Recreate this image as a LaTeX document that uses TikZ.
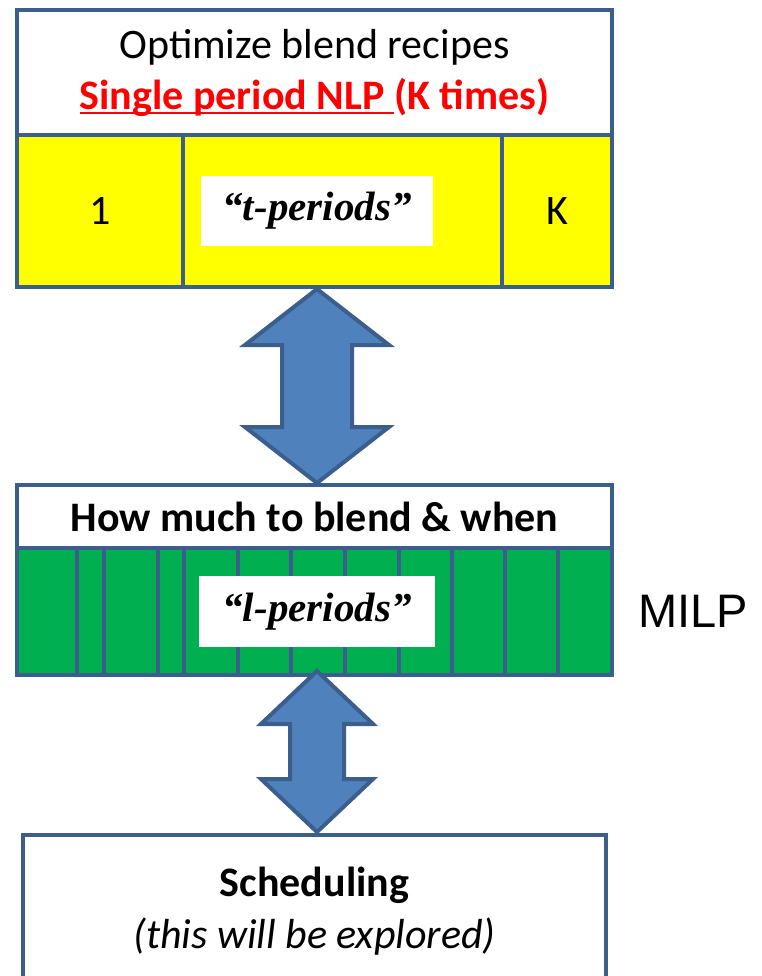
\documentclass[tikz,border=0pt]{standalone}
\usepackage{fontspec}
\setmainfont{Carlito}
\newfontfamily\romanfont{Liberation Serif}
\newfontfamily\arialfont{Liberation Sans}
\usetikzlibrary{positioning}
\usetikzlibrary{calc}
\definecolor{edge}{HTML}{3B5E8C}
\definecolor{arrowblue}{HTML}{4F81BD}
\definecolor{nlpyellow}{HTML}{FFFF00}
\definecolor{milpgreen}{HTML}{00B050}
\newcommand\slidefont{\fontsize{42}{53}\selectfont}
\newcommand\uln[1]{\setbox0\hbox{#1}\rlap{\rule[-5pt]{\wd0}{2.5pt}}\box0}
% two headed block arrow: top tip, bottom tip, head half width, shaft half width, head length
\newcommand\twoway[5]{
  \filldraw[draw=edge, fill=arrowblue, line width=4pt, line join=miter]
    (#1) -- ++(#3,#5) -- ++(-#3+#4,0) -- ($(#2)+(#4,-#5)$) -- ++(#3-#4,0)
    -- (#2) -- ++(-#3,-#5) -- ++(#3-#4,0) -- ($(#1)+(-#4,#5)$) -- ++(-#3+#4,0) -- cycle;
}

\begin{document}
\begin{tikzpicture}[x=1pt, y=-1pt,
    box/.style={draw=edge, line width=4pt, outer sep=0pt, inner sep=0pt, align=center, font=\slidefont},
    tag/.style={fill=white, inner sep=0pt, minimum width=232, minimum height=70,
      font=\fontsize{41}{41}\selectfont\romanfont\bfseries\itshape}]
  \useasboundingbox (0,0) rectangle (761,976);
  \clip (0,0) rectangle (761,976);

  % NLP block
  \node[box, fill=white, minimum width=595, minimum height=125, anchor=north west] (recipes) at (17,10)
    {Optimize blend recipes\\[-2pt]\textcolor{red}{\bfseries\uln{Single period NLP }(K times)}};
  \node[box, fill=nlpyellow, minimum width=166, minimum height=152, anchor=north west] (first) at (recipes.south west) {1};
  \node[box, fill=nlpyellow, minimum width=319, minimum height=152, right=0pt of first] (tcells) {};
  \node[box, fill=nlpyellow, minimum width=110, minimum height=152, right=0pt of tcells] (last) {K};
  \node[tag] (tper) at ([xshift=2.5pt]recipes.center |- tcells.center) {“t-periods”};

  % MILP block
  \node[box, fill=white, minimum width=595, minimum height=63, anchor=north west] (howmuch) at (17,485)
    {\bfseries How much to blend \& when};
  \node[box, fill=milpgreen, minimum width=595, minimum height=127, below=0pt of howmuch] (lcells) {};
  \foreach \x in {77,104,158,184,238,291,345,399,452,505,558}
    \draw[edge, line width=4pt] (\x,548) -- (\x,675);
  \node[tag, minimum width=236, minimum height=71] (lper) at ([xshift=2.5pt]lcells.center) {“l-periods”};
  \node[font=\fontsize{47}{47}\selectfont\arialfont, inner sep=0pt, right=26pt of lcells] (milp) {MILP};

  % scheduling block
  \node[box, fill=white, minimum width=583, minimum height=152, anchor=north west] (sched) at (23,835)
    {\bfseries Scheduling\\[-1pt]\itshape (this will be explored)};

  % links between the levels
  \coordinate (a1) at ($(tper |- tcells.south)+(0,2)$);
  \coordinate (b1) at ($(tper |- howmuch.north)+(0,-2)$);
  \coordinate (a2) at ($(lper |- lcells.south)+(0,-4)$);
  \coordinate (b2) at ($(lper |- sched.north)+(0,-3)$);
  \twoway{a1}{b1}{72}{35}{56}
  \twoway{a2}{b2}{56}{27}{53}
\end{tikzpicture}
\end{document}
